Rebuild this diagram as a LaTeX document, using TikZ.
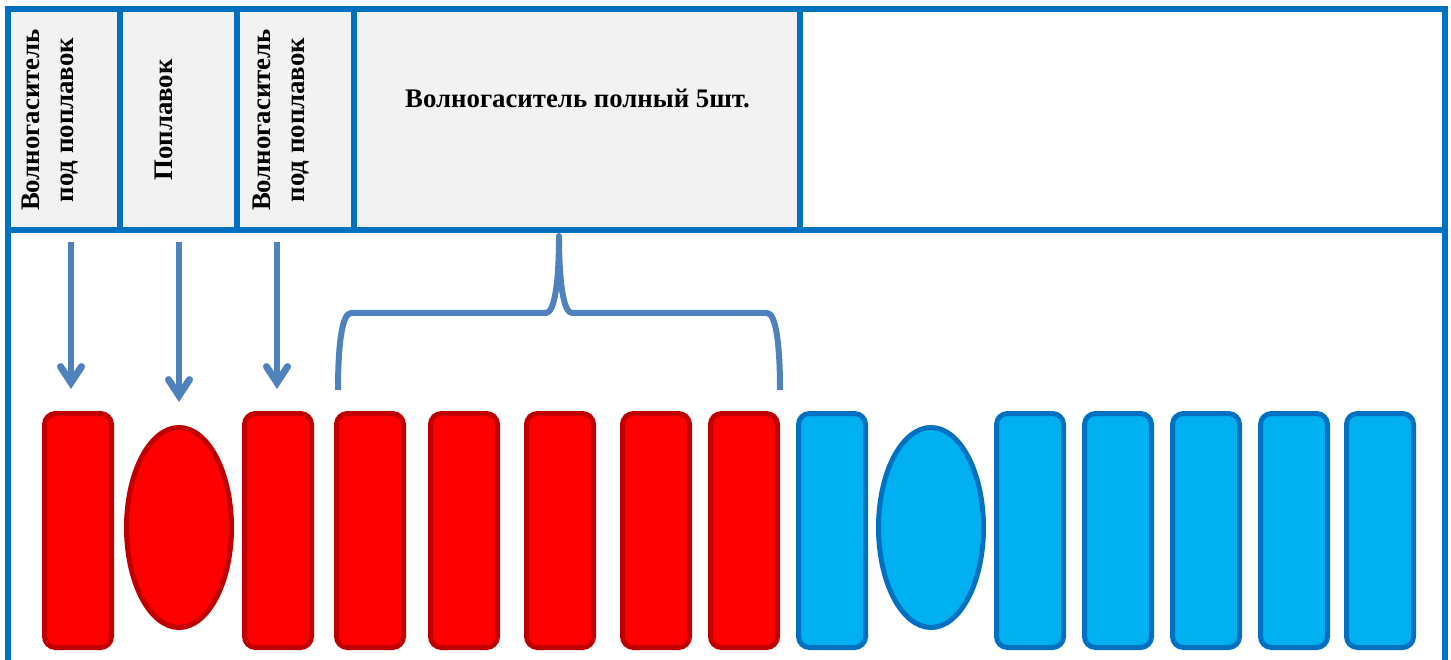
\documentclass[tikz,border=0pt]{standalone}
\usepackage{fontspec}
\setmainfont{Liberation Serif}
\usetikzlibrary{shapes.geometric,calc}
\definecolor{frameblue}{HTML}{0070C0}
\definecolor{cellgrey}{HTML}{F2F2F2}
\definecolor{arrowblue}{HTML}{4F81BD}
\definecolor{redline}{HTML}{C00000}
\definecolor{redfill}{HTML}{FF0000}
\definecolor{bluefill}{HTML}{00B0F0}
\tikzset{
  x=1pt,y=-1pt,
  framecell/.style={draw=frameblue,line width=6pt,fill=cellgrey,minimum height=221pt,anchor=north west,inner sep=0pt,outer sep=0pt},
  label/.style={font=\bfseries\fontsize{26.8}{32}\selectfont,inner sep=0pt,align=center,text=black},
  vlabel/.style={label,rotate=90},
  connector/.style={draw=arrowblue,line width=6pt},
  arrowhead/.style={draw=arrowblue,line width=7pt,line cap=round,miter limit=10},
  bar/.style={rectangle,rounded corners=11pt,minimum width=67pt,minimum height=234pt,line width=5pt,inner sep=0pt,outer sep=0pt},
  oval/.style={ellipse,minimum width=105pt,minimum height=200pt,line width=5pt,inner sep=0pt,outer sep=0pt},
  redp/.style={draw=redline,fill=redfill},
  bluep/.style={draw=frameblue,fill=bluefill},
}
\begin{document}
\begin{tikzpicture}
\useasboundingbox (0,0) rectangle (1451,660);
% frame
\draw[draw=frameblue,line width=6pt] (8,680) -- (8,9.5) -- (1445,9.5) -- (1445,680);
\clip (0,0) rectangle (1451,660);
\node[framecell,minimum width=112pt] (c1) at (8,9.5) {};
\node[framecell,minimum width=117pt] (c2) at (120,9.5) {};
\node[framecell,minimum width=117pt] (c3) at (237,9.5) {};
\node[framecell,minimum width=446pt] (c4) at (354,9.5) {};
\node[framecell,minimum width=645pt,fill=white] (c5) at (800,9.5) {};
% header texts
\node[vlabel] (t1a) at (31,120) {Волногаситель};
\node[vlabel] (t1b) at (70,120) {под поплавок};
\node[vlabel] (t2) at (164,120) {Поплавок};
\node[vlabel] (t3a) at (262,120) {Волногаситель};
\node[vlabel] (t3b) at (301,120) {под поплавок};
\node[label] (t4) at (577.5,98) {Волногаситель полный 5шт.};
% parts
\foreach \n/\cx in {r1/78,r3/278,r4/370,r5/464,r6/560,r7/656,r8/744}
  \node[bar,redp] (\n) at (\cx,530.5) {};
\node[oval,redp] (r2) at (179,527.5) {};
\foreach \n/\cx in {b1/832,b3/1030,b4/1118,b5/1206,b6/1294,b7/1380}
  \node[bar,bluep] (\n) at (\cx,530.5) {};
\node[oval,bluep] (b2) at (931,527.5) {};
% arrows
\coordinate (a1s) at (71,242); \coordinate (a1e) at (71,382.6);
\coordinate (a2s) at (179,242); \coordinate (a2e) at (179,395.6);
\coordinate (a3s) at (277,242); \coordinate (a3e) at (277,382.6);
\foreach \s/\e in {a1s/a1e,a2s/a2e,a3s/a3e}{
  \draw[connector] (\s) -- (\e);
  \draw[arrowhead] ($(\e)+(-10.5,-16)$) -- (\e) -- ($(\e)+(10.5,-16)$);
}
% brace
\coordinate (bl) at (338,390); \coordinate (bt) at (559,236); \coordinate (br) at (780,390);
\draw[connector,line join=round] (bl) .. controls (338,345) and (342,313) .. (351,313)
  -- (546,313) .. controls (554,313) and (559,285) .. (bt)
  .. controls (559,285) and (564,313) .. (572,313)
  -- (767,313) .. controls (776,313) and (780,345) .. (br);
\end{tikzpicture}
\end{document}
